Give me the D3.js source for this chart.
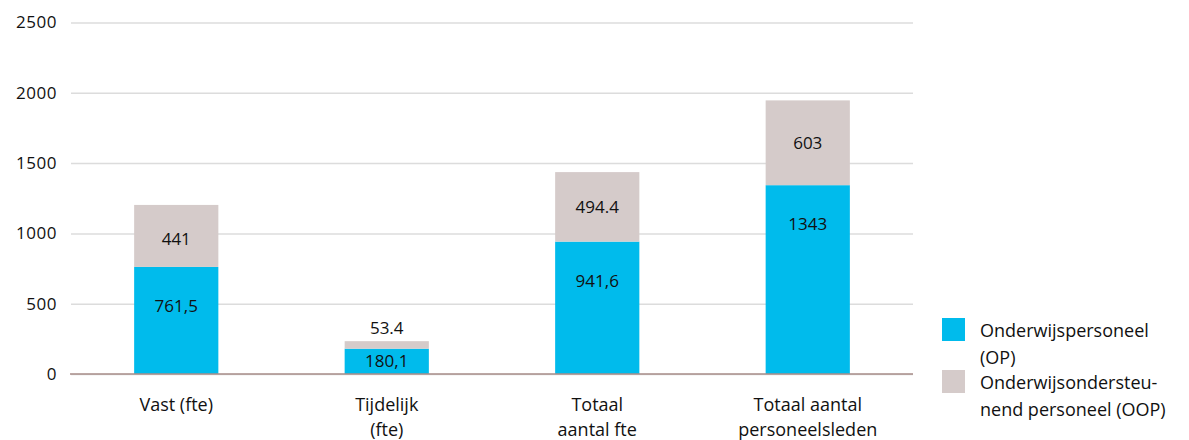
<!DOCTYPE html>
<html>
<head>
<meta charset="utf-8">
<script src="https://cdn.jsdelivr.net/npm/d3@7"></script>
<style>
  body { margin: 0; background: #fff; }
  text { font-family: "Open Sans", "Noto Sans", sans-serif; fill: #111; }
</style>
</head>
<body>
<div id="chart"></div>
<script>
const categories = ["Vast (fte)", "Tijdelijk (fte)", "Totaal aantal fte", "Totaal aantal personeelsleden"];
const categoryLines = [["Vast (fte)"], ["Tijdelijk", "(fte)"], ["Totaal", "aantal fte"], ["Totaal aantal", "personeelsleden"]];
const opValues = [761.5, 180.1, 941.6, 1343];
const oopValues = [441, 53.4, 494.4, 603];
const opLabels = ["761,5", "180,1", "941,6", "1343"];
const oopLabels = ["441", "53.4", "494.4", "603"];
const yTicks = [0, 500, 1000, 1500, 2000, 2500];
const seriesNames = [["Onderwijspersoneel", "(OP)"], ["Onderwijsondersteu-", "nend personeel (OOP)"]];
const colors = ["#00bbec", "#d5cbca"];

const w = 1189, h = 440;
const margins = { top: 22.5, left: 71, bottom: 66, right: 276 };

const svg = d3.select("#chart").append("svg")
  .attr("width", w).attr("height", h);

const x = d3.scaleBand()
  .domain(categories)
  .range([margins.left, w - margins.right])
  .paddingInner(0.6)
  .paddingOuter(0.3);

const y = d3.scaleLinear()
  .domain([0, 2500])
  .range([h - margins.bottom, margins.top]);

// gridlines + tick labels
const yAxis = svg.append("g")
  .attr("transform", `translate(${margins.left},0)`)
  .call(d3.axisLeft(y).tickValues(yTicks).tickSize(-(w - margins.right - margins.left)).tickPadding(14).tickFormat(d3.format("d")));
yAxis.select(".domain").remove();
yAxis.selectAll(".tick line").attr("stroke", "#dcdcdc").attr("stroke-width", 1.5);
yAxis.selectAll(".tick text").style("font-size", "17px").style("letter-spacing", "0.5px").attr("fill", "#111");

// bars
const g = svg.append("g");
categories.forEach((c, i) => {
  const op = opValues[i], oop = oopValues[i];
  g.append("rect")
    .attr("x", x(c)).attr("width", x.bandwidth())
    .attr("y", y(op)).attr("height", y(0) - y(op))
    .attr("fill", colors[0]);
  g.append("rect")
    .attr("x", x(c)).attr("width", x.bandwidth())
    .attr("y", y(op + oop)).attr("height", y(op) - y(op + oop))
    .attr("fill", colors[1]);

  const cx = x(c) + x.bandwidth() / 2;
  // OP label
  const opMid = (y(0) + y(op)) / 2;
  const opY = Math.min(opMid, y(op) + 39);
  g.append("text").attr("x", cx).attr("y", opY).attr("dy", "0.35em")
    .attr("text-anchor", "middle").style("font-size", "17px").text(opLabels[i]);
  // OOP label
  const segH = y(op) - y(op + oop);
  const oopY = segH > 25 ? Math.max((y(op) + y(op + oop)) / 2, y(op + oop) + 34) : y(op + oop) - 13;
  g.append("text").attr("x", cx).attr("y", oopY).attr("dy", "0.35em")
    .attr("text-anchor", "middle").style("font-size", "17px").text(oopLabels[i]);

  // category label
  const t = g.append("text").attr("x", cx).attr("y", y(0) + 37)
    .attr("text-anchor", "middle").style("font-size", "18px");
  categoryLines[i].forEach((line, j) => {
    t.append("tspan").attr("x", cx).attr("dy", j === 0 ? 0 : 25).text(line);
  });
});

// zero line
svg.append("line")
  .attr("x1", margins.left - 1).attr("x2", w - margins.right)
  .attr("y1", y(0)).attr("y2", y(0))
  .attr("stroke", "#a88e8a").attr("stroke-width", 1.5);

// legend
const legend = svg.append("g").attr("transform", "translate(942,318)");
seriesNames.forEach((lines, i) => {
  const lg = legend.append("g").attr("transform", `translate(0,${i * 52})`);
  lg.append("rect").attr("width", 23).attr("height", 23).attr("fill", colors[i]);
  const t = lg.append("text").attr("x", 38).attr("y", 19).style("font-size", "18px");
  lines.forEach((line, j) => {
    t.append("tspan").attr("x", 38).attr("dy", j === 0 ? 0 : 26.5).text(line);
  });
});
</script>
</body>
</html>
